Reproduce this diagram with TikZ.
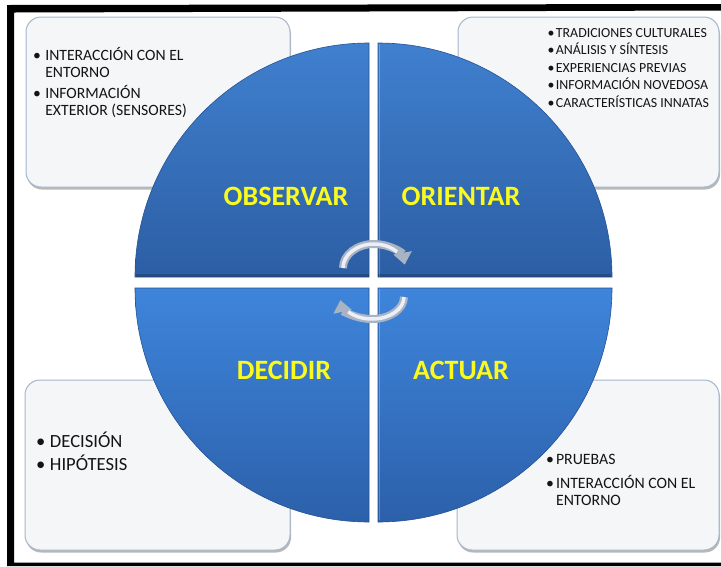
\documentclass[tikz,border=0pt]{standalone}
\usepackage{fontspec}
\setmainfont{Carlito}
\usetikzlibrary{arrows.meta,shadows}

\definecolor{boxfill}{RGB}{245,246,248}
\definecolor{boxline}{RGB}{165,182,206}
\definecolor{itemink}{RGB}{20,20,20}
\definecolor{labelink}{RGB}{250,250,30}
\definecolor{upperlight}{RGB}{64,128,207}
\definecolor{upperdark}{RGB}{44,94,164}
\definecolor{lowerlight}{RGB}{62,133,219}
\definecolor{lowerdark}{RGB}{44,96,170}
\definecolor{pieedge}{RGB}{38,82,146}
\definecolor{cyclebody}{RGB}{168,179,196}
\definecolor{cyclelight}{RGB}{236,240,246}

\begin{document}
\begin{tikzpicture}[x=1pt,y=-1pt,
  infobox/.style={draw=boxline, line width=1pt, fill=boxfill, rounded corners=15pt,
    inner sep=0pt,
    drop shadow={shadow xshift=1pt, shadow yshift=-2.5pt, fill=black, opacity=0.28}},
  itemtext/.style={anchor=base west, inner sep=0pt, text=itemink},
  pie/.style={draw=pieedge, line width=0.6pt},
  quadlabel/.style={text=labelink, inner sep=0pt, font=\fontsize{28}{30}\selectfont\bfseries},
  cyclearrow/.style={draw=cyclebody, line width=8pt,
    -{Triangle[width=18pt,length=12pt]}},
  cyclehi/.style={draw=cyclelight, line width=3.5pt, line cap=butt}]

\useasboundingbox (0,0) rectangle (721,566);
\fill[white] (0,0) rectangle (721,566);

% black frame on top, left and bottom
\fill[black] (7,5) -- (721,4) -- (721,10.5) -- (14,12.5) -- (14,562.5)
  -- (721,562.5) -- (721,566) -- (7,566) -- cycle;

% corner boxes
\node[infobox, minimum width=264pt, minimum height=170pt] (boxobs) at (158,102) {};
\node[infobox, minimum width=261pt, minimum height=170pt] (boxori) at (588.5,102) {};
\node[infobox, minimum width=265pt, minimum height=170pt] (boxdec) at (157.5,465) {};
\node[infobox, minimum width=262pt, minimum height=170pt] (boxact) at (588,465) {};

% box contents
\node[itemtext, font=\fontsize{15.7}{17.5}\selectfont] (txtobs) at (33,60)
  {\begin{tabular}[t]{@{}l@{\hspace{4.3pt}}l@{}}
   •&INTERACCIÓN CON EL\\ &ENTORNO\\[2.5pt]
   •&INFORMACIÓN\\ &EXTERIOR (SENSORES)\end{tabular}};
\node[itemtext, font=\fontsize{13.9}{17.5}\selectfont] (txtori) at (547.5,37.3)
  {\begin{tabular}[t]{@{}l@{\hspace{1.3pt}}l@{}}
   •&TRADICIONES CULTURALES\\
   •&ANÁLISIS Y SÍNTESIS\\
   •&EXPERIENCIAS PREVIAS\\
   •&INFORMACIÓN NOVEDOSA\\
   •&CARACTERÍSTICAS INNATAS\end{tabular}};
\node[itemtext, font=\fontsize{18.6}{23}\selectfont] (txtdec) at (36,447)
  {\begin{tabular}[t]{@{}l@{\hspace{4.5pt}}l@{}}
   •&DECISIÓN\\
   •&HIPÓTESIS\end{tabular}};
\node[itemtext, font=\fontsize{15.8}{16.5}\selectfont] (txtact) at (546,464)
  {\begin{tabular}[t]{@{}l@{\hspace{2pt}}l@{}}
   •&PRUEBAS\\[6.5pt]
   •&INTERACCIÓN CON EL\\ &ENTORNO\end{tabular}};

% the four quadrants of the cycle
\path[pie, top color=upperlight, bottom color=upperdark]
  (369,277) -- ++(-234,0) arc[start angle=180, end angle=270, radius=234] -- cycle;
\path[pie, top color=upperlight, bottom color=upperdark]
  (378,277) -- ++(0,-234) arc[start angle=270, end angle=360, radius=234] -- cycle;
\path[pie, top color=lowerlight, bottom color=lowerdark]
  (378,288) -- ++(234,0) arc[start angle=0, end angle=90, radius=234] -- cycle;
\path[pie, top color=lowerlight, bottom color=lowerdark]
  (369,288) -- ++(0,234) arc[start angle=90, end angle=180, radius=234] -- cycle;

% bevel highlights along the inner edges
\draw[white, opacity=0.25, line width=1.2pt] (379.5,277) -- (379.5,44);
\draw[white, opacity=0.25, line width=1.2pt] (379.5,289) -- (379.5,520);
\draw[black, opacity=0.18, line width=3pt] (136,275.5) -- (369,275.5);
\draw[black, opacity=0.18, line width=3pt] (378,275.5) -- (611,275.5);

% quadrant titles
\node[quadlabel] (obs) at (286,196) {OBSERVAR};
\node[quadlabel] (ori) at (461,196) {ORIENTAR};
\node[quadlabel] (dec) at (284,370) {DECIDIR};
\node[quadlabel] (act) at (461,370) {ACTUAR};

% circular arrows in the middle
\draw[cyclearrow] (343,268) arc[start angle=180, end angle=352, x radius=31, y radius=24];
\draw[cyclehi] (343,268) arc[start angle=180, end angle=318, x radius=31, y radius=24];
\draw[cyclearrow] (404,297) arc[start angle=0, end angle=172, x radius=32, y radius=22];
\draw[cyclehi] (404,297) arc[start angle=0, end angle=138, x radius=32, y radius=22];

\end{tikzpicture}
\end{document}
